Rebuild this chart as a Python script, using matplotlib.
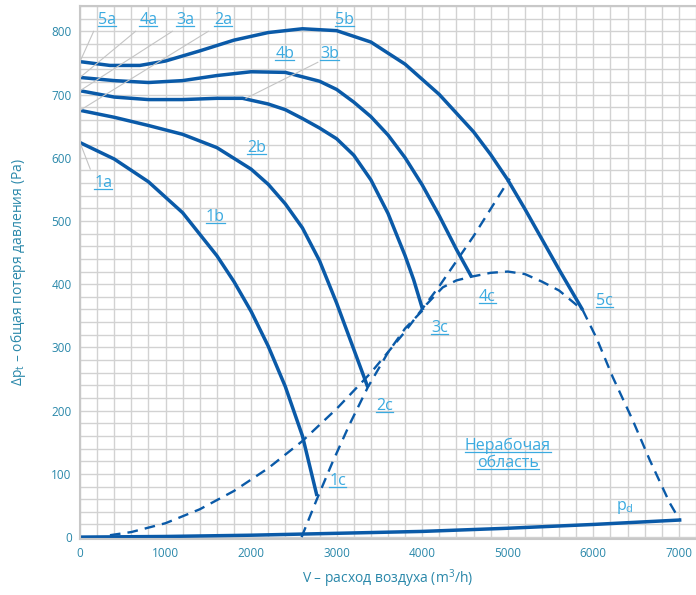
import matplotlib.pyplot as plt
import numpy as np

plt.rcParams['font.family'] = ['Open Sans', 'DejaVu Sans']

# расход воздуха (m3/h) и потеря давления (Pa) для кривых 1..5
v1 = [0, 400, 800, 1200, 1600, 1800, 2000, 2200, 2400, 2600, 2770]
p1 = [624, 598, 562, 513, 445, 404, 357, 302, 238, 160, 65]

v2 = [0, 400, 800, 1200, 1600, 2000, 2200, 2400, 2600, 2800, 3000, 3200, 3364]
p2 = [675, 664, 651, 637, 616, 582, 558, 527, 489, 437, 370, 297, 237]

v3 = [0, 400, 800, 1200, 1600, 1900, 2200, 2400, 2600, 2800, 3000, 3200, 3400, 3600, 3800, 3900, 4007]
p3 = [706, 696, 692, 692, 694, 694, 685, 676, 662, 647, 630, 604, 565, 512, 445, 407, 359]

v4 = [0, 400, 800, 1200, 1600, 2000, 2400, 2800, 3000, 3200, 3400, 3600, 3800, 4000, 4200, 4400, 4579]
p4 = [727, 722, 719, 722, 730, 736, 735, 721, 708, 688, 665, 636, 600, 557, 508, 455, 411]

v5 = [0, 350, 700, 1000, 1400, 1800, 2200, 2600, 3000, 3400, 3800, 4200, 4600, 4800, 5000,
      5200, 5400, 5600, 5876]
p5 = [752, 746, 746, 753, 769, 786, 798, 804, 801, 783, 748, 700, 641, 605, 565,
      519, 471, 423, 359]

# характеристика сети (пунктир)
v_sys = [350, 600, 1000, 1400, 1800, 2200, 2600, 3000, 3400, 3800, 4200, 4600, 5023]
p_sys = [3, 8, 22, 44, 73, 109, 152, 203, 260, 325, 397, 476, 567]

# граница нерабочей области (пунктир)
v_lim = [2590, 2769, 2950, 3150, 3364, 3600, 3800, 4007, 4050, 4240, 4400, 4580, 4800, 5000,
         5200, 5400, 5600, 5876, 6040, 6227, 6460, 6659, 6893, 7009]
p_lim = [0, 60, 118, 178, 237, 292, 330, 359, 368, 395, 406, 412, 418, 420,
         416, 404, 390, 359, 314, 253, 185, 122, 54, 27]

# динамическое давление pd
v_pd = [0, 1000, 2000, 3000, 4000, 5000, 6000, 7009]
p_pd = [0, 1, 3, 6, 9, 14, 20, 27]

blue = '#0a5aa8'
label_blue = '#3aaae0'
tick_blue = '#2a88aa'

fig = plt.figure(figsize=(6.96, 5.95), dpi=100)
ax = fig.add_axes([80 / 696, 56 / 595, 616 / 696, 533 / 595])
ax.set_xlim(0, 7200)
ax.set_ylim(-3, 840)

ax.set_xticks(np.arange(0, 7001, 1000))
ax.set_yticks(np.arange(0, 801, 100))
ax.set_xticks(np.arange(0, 7201, 200), minor=True)
ax.set_yticks(np.arange(0, 841, 20), minor=True)
ax.grid(which='both', color='#d2d2d2', linewidth=1.0)
ax.set_axisbelow(True)
ax.tick_params(which='both', length=0, colors=tick_blue, labelsize=8.5, pad=6)
for s in ['left', 'bottom', 'top']:
    ax.spines[s].set_color('#c8c8c8')
    ax.spines[s].set_linewidth(1.5)
ax.spines['right'].set_visible(False)

for v, p in [(v1, p1), (v2, p2), (v3, p3), (v4, p4), (v5, p5)]:
    ax.plot(v, p, color=blue, lw=2.5, solid_capstyle='butt', solid_joinstyle='round')

ax.plot(v_sys, p_sys, color=blue, lw=1.7, dashes=(4.5, 3))
ax.plot(v_lim, p_lim, color=blue, lw=1.7, dashes=(4.5, 3))
ax.plot(v_pd, p_pd, color=blue, lw=2.5)

# выноски
lead = '#c4c4c4'
ax.plot([160, 0], [800, 752], color=lead, lw=0.8)
ax.plot([650, 0], [800, 727], color=lead, lw=0.8)
ax.plot([1080, 0], [800, 706], color=lead, lw=0.8)
ax.plot([1500, 0], [800, 675], color=lead, lw=0.8)
ax.plot([120, 0], [582, 624], color=lead, lw=0.8)
ax.plot([2780, 1940], [751, 694], color=lead, lw=0.8)

labels = [
    ('5a', 320, 818), ('4a', 800, 818), ('3a', 1230, 818), ('2a', 1670, 818),
    ('5b', 3096, 818), ('4b', 2395, 764), ('3b', 2920, 764), ('2b', 2060, 615),
    ('1a', 270, 560), ('1b', 1580, 507), ('1c', 3010, 89), ('2c', 3560, 208),
    ('3c', 4200, 330), ('4c', 4760, 380), ('5c', 6130, 374),
]
texts = []
for t, x, y in labels:
    texts.append(ax.text(x, y, t, color=label_blue, fontsize=11.5, ha='center', va='center'))
texts.append(ax.text(5000, 145, 'Нерабочая', color=label_blue, fontsize=11.5, ha='center', va='center'))
texts.append(ax.text(5000, 117, 'область', color=label_blue, fontsize=11.5, ha='center', va='center'))
ax.text(6370, 47, r'p$_\mathregular{d}$', color=label_blue, fontsize=11.5, ha='center', va='center')

ax.set_xlabel('V – расход воздуха (m$^\\mathregular{3}$/h)', color=tick_blue, fontsize=10, labelpad=5)
ax.set_ylabel('Δp$_\\mathregular{t}$ – общая потеря давления (Pa)', color=tick_blue, fontsize=10, labelpad=17)

# подчёркивание подписей
fig.canvas.draw()
r = fig.canvas.get_renderer()
inv = fig.transFigure.inverted()
for t in texts:
    bb = t.get_window_extent(r)
    (x0, y0), (x1, y1) = inv.transform([(bb.x0, bb.y0 + 2), (bb.x1, bb.y0 + 2)])
    fig.add_artist(plt.Line2D([x0, x1], [y0, y1], color=label_blue, lw=0.9))

fig.savefig('out.png', dpi=100)
